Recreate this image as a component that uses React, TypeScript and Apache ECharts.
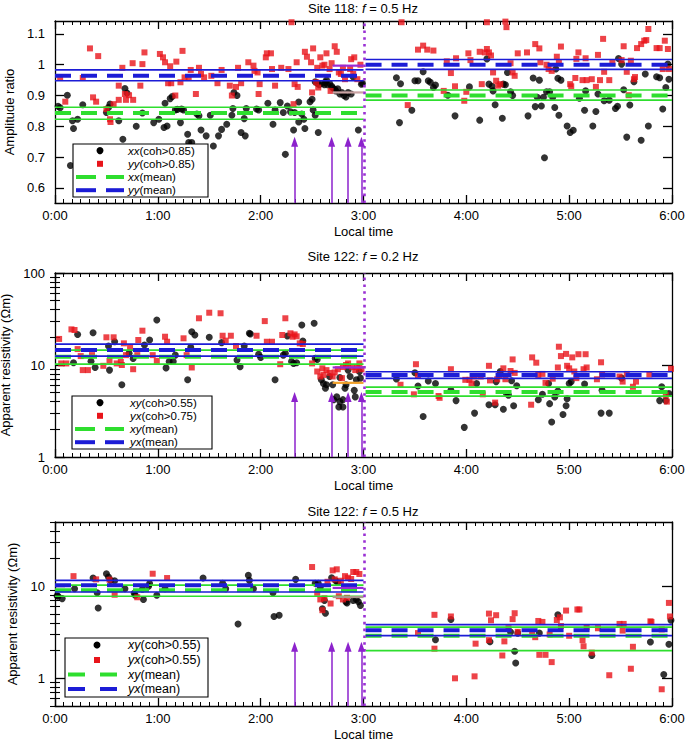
import React, { useEffect, useRef } from 'react';
import * as echarts from 'echarts';

const FONT = '"Liberation Sans", Arial, Helvetica, sans-serif';
const GREEN = '#2ede2e';
const BLUE = '#1c1cd6';
const RED = '#e8141a';
const PURPLE = '#8c22cc';
const DOTTED = '#9a30d4';

// ---- shared time layout (hours after 0:00 local time) ----
const hourTicks = [0, 1, 2, 3, 4, 5, 6];
const halves = [[0, 3.0], [3.02, 6]];
const eventSpan = [2.7, 3.0];
const arrowTimes = [2.33, 2.69, 2.85, 2.98];
const boundaryTime = 3.01;

// ---- Panel 1: Site 118, f = 0.5 Hz, amplitude ratio ----
const p1Title = ['Site 118: ', 'f', ' = 0.5 Hz'];
const p1YTicks = [0.6, 0.7, 0.8, 0.9, 1, 1.1];
const p1Range = [0.551, 1.142];
const p1XX = [
  [0.03, 0.865], [0.05, 0.86], [0.12, 0.901], [0.15, 0.673], [0.17, 0.818], [0.18, 0.793], [0.22, 0.823], [0.27, 0.87],
  [0.5, 0.845], [0.52, 0.861], [0.535, 0.872], [0.62, 0.818], [0.66, 0.758], [0.68, 0.923], [0.7, 0.908], [0.79, 0.8],
  [0.85, 0.843], [0.96, 0.812], [1.01, 0.823], [1.06, 0.796], [1.07, 0.875], [1.09, 0.801], [1.12, 0.89], [1.14, 0.897],
  [1.17, 0.853], [1.19, 0.855], [1.22, 0.812], [1.23, 0.856], [1.25, 0.853], [1.29, 0.774], [1.3, 0.747], [1.33, 0.747],
  [1.38, 0.84], [1.4, 0.834], [1.42, 0.788], [1.47, 0.769], [1.51, 0.836], [1.54, 0.736], [1.59, 0.769], [1.62, 0.79],
  [1.67, 0.807], [1.72, 0.836], [1.73, 0.858], [1.74, 0.91], [1.77, 0.9], [1.81, 0.78], [1.84, 0.825], [1.85, 0.769],
  [1.86, 0.858], [1.96, 0.856], [1.98, 0.853], [2.07, 0.875], [2.12, 0.807], [2.14, 0.853], [2.19, 0.877], [2.22, 0.845],
  [2.24, 0.709], [2.26, 0.866], [2.29, 0.847], [2.32, 0.788], [2.33, 0.845], [2.37, 0.879], [2.37, 0.814], [2.4, 0.84],
  [2.42, 0.823], [2.43, 0.793], [2.48, 0.88], [2.5, 0.888], [2.51, 0.853], [2.53, 0.836], [2.56, 0.78],
  [2.53, 0.945], [2.55, 0.94], [2.57, 0.935], [2.6, 0.94], [2.62, 0.935], [2.63, 0.943], [2.64, 0.95], [2.65, 0.935],
  [2.67, 0.94], [2.69, 0.93], [2.7, 0.925], [2.72, 0.92], [2.73, 0.915], [2.75, 0.922], [2.77, 0.905], [2.79, 0.91],
  [2.81, 0.9], [2.83, 0.895], [2.85, 0.91], [2.88, 0.905], [2.9, 0.96], [2.95, 0.788], [2.98, 0.937], [2.99, 0.94],
  [3.32, 0.958], [3.35, 0.812], [3.36, 0.938], [3.47, 0.852], [3.5, 0.948], [3.53, 0.948], [3.58, 0.977], [3.63, 0.948],
  [3.65, 0.943], [3.68, 0.926], [3.7, 0.934], [3.82, 0.901], [3.89, 0.834], [4.03, 0.928], [4.13, 0.82], [4.2, 1.019],
  [4.22, 0.937], [4.25, 0.93], [4.26, 0.915], [4.28, 0.87], [4.35, 0.826], [4.36, 0.937], [4.38, 0.935], [4.4, 0.975],
  [4.43, 0.912], [4.45, 0.9], [4.6, 0.834], [4.65, 0.957], [4.67, 0.864], [4.69, 0.894], [4.71, 0.95], [4.73, 0.866],
  [4.75, 0.894], [4.76, 0.698], [4.78, 0.912], [4.81, 0.912], [4.84, 0.894], [4.86, 0.861], [4.87, 0.986], [4.89, 0.956],
  [4.9, 0.836], [4.92, 0.95], [4.98, 0.801], [5.01, 0.78], [5.04, 0.787], [5.1, 0.891], [5.15, 0.852], [5.16, 0.915],
  [5.23, 0.801], [5.26, 0.848], [5.28, 0.905], [5.34, 0.883], [5.39, 0.885], [5.45, 0.858], [5.47, 0.865], [5.48, 1.02],
  [5.51, 1.002], [5.53, 0.919], [5.56, 0.765], [5.59, 0.869], [5.63, 0.945], [5.7, 0.755], [5.74, 0.97], [5.77, 0.801],
  [5.85, 0.961], [5.88, 0.958], [5.91, 0.856], [5.94, 0.926], [5.96, 1.002], [5.97, 0.953]
];
const p1YY = [
  [0.05, 0.957], [0.1, 0.88], [0.27, 0.957], [0.34, 1.053], [0.37, 0.894], [0.4, 0.88], [0.42, 1.028], [0.5, 0.856],
  [0.535, 0.823], [0.54, 0.814], [0.57, 0.872], [0.62, 0.932], [0.62, 0.886], [0.655, 0.99], [0.68, 0.905], [0.69, 0.886],
  [0.72, 0.901], [0.755, 1.005], [0.76, 0.886], [0.83, 0.932], [0.85, 1.002], [0.87, 1.04], [1.02, 1.035], [1.05, 1.024],
  [1.07, 1.008], [1.1, 0.94], [1.12, 0.995], [1.13, 0.94], [1.17, 0.9], [1.18, 1.01], [1.22, 0.943], [1.24, 1.045],
  [1.26, 0.959], [1.3, 0.957], [1.32, 0.983], [1.37, 0.905], [1.4, 0.99], [1.42, 0.97], [1.45, 0.959], [1.52, 0.964],
  [1.58, 0.94], [1.62, 0.983], [1.7, 0.932], [1.72, 0.9], [1.76, 0.928], [1.78, 0.99], [1.81, 0.94], [1.88, 1.008],
  [1.93, 0.997], [1.94, 0.98], [1.97, 0.975], [1.98, 0.905], [1.99, 0.937], [2.05, 1.024], [2.06, 1.037], [2.1, 1.037],
  [2.11, 0.986], [2.14, 0.932], [2.2, 0.99], [2.27, 0.986], [2.3, 1.138], [2.32, 0.872], [2.33, 0.937], [2.35, 1.008],
  [2.36, 0.928], [2.43, 1.042], [2.45, 1.026], [2.49, 1.008], [2.5, 0.91], [2.51, 1.053], [2.54, 0.943], [2.55, 0.99],
  [2.56, 0.926], [2.58, 1.024], [2.6, 0.997], [2.62, 1.0], [2.64, 1.037], [2.67, 0.986], [2.68, 0.915], [2.69, 1.005],
  [2.72, 1.06], [2.74, 1.042], [2.76, 0.975], [2.78, 0.97], [2.8, 0.99], [2.82, 0.953], [2.87, 0.986], [2.88, 1.018],
  [2.9, 0.97], [2.91, 1.024], [2.94, 0.953], [2.97, 1.0],
  [3.37, 1.138], [3.43, 0.869], [3.53, 1.049], [3.58, 1.062], [3.62, 1.049], [3.68, 1.046], [3.78, 0.915], [3.81, 1.011],
  [3.85, 0.973], [3.89, 0.93], [3.9, 1.021], [3.98, 0.883], [4.0, 0.912], [4.02, 1.037], [4.04, 1.015], [4.13, 1.042],
  [4.15, 0.937], [4.18, 1.04], [4.2, 1.051], [4.2, 1.138], [4.22, 1.04], [4.24, 1.03], [4.26, 0.975], [4.29, 0.948],
  [4.31, 0.932], [4.33, 0.937], [4.38, 1.14], [4.39, 1.122], [4.43, 1.005], [4.45, 0.975], [4.47, 0.964], [4.5, 1.037],
  [4.59, 1.04], [4.67, 1.067], [4.71, 1.053], [4.72, 1.008], [4.78, 1.0], [4.8, 0.986], [4.83, 0.98], [4.88, 1.026],
  [4.9, 1.008], [4.92, 1.059], [5.01, 0.937], [5.02, 0.93], [5.06, 0.957], [5.07, 1.019], [5.09, 1.04], [5.13, 0.95],
  [5.16, 1.021], [5.17, 0.95], [5.22, 0.953], [5.26, 0.928], [5.28, 1.032], [5.3, 0.95], [5.33, 1.084], [5.34, 0.977],
  [5.39, 0.95], [5.42, 1.008], [5.51, 1.015], [5.53, 1.06], [5.56, 0.977], [5.58, 0.901], [5.6, 1.013], [5.63, 0.953],
  [5.64, 0.96], [5.66, 1.054], [5.7, 1.067], [5.73, 1.078], [5.75, 1.08], [5.77, 1.116], [5.85, 1.054], [5.88, 1.054],
  [5.91, 0.986], [5.93, 1.078], [5.96, 1.051], [5.97, 0.986]
];
const p1XXMean = [0.843, 0.9];
const p1XXBand = [[0.823, 0.862], [0.885, 0.918]];
const p1YYMean = [0.964, 1.0];
const p1YYBand = [[0.948, 0.983], [0.985, 1.017]];
const p1EventLevels = [0.997, 0.91];
const p1ArrowTop = 0.75;
const p1Legend = [['xx', '(coh>0.85)'], ['yy', '(coh>0.85)'], ['xx', '(mean)'], ['yy', '(mean)']];

// ---- Panel 2: Site 122, f = 0.2 Hz, apparent resistivity ----
const p2Title = ['Site 122: ', 'f', ' = 0.2 Hz'];
const p2Range = [1, 100];
const p2MajorTicks = [1, 10, 100];
const p2MinorTicks = [2, 3, 4, 5, 6, 7, 8, 9, 20, 30, 40, 50, 60, 70, 80, 90];
const p2XY = [
  [0.18, 10.6], [0.22, 21.5], [0.35, 11.0], [0.37, 22.4], [0.39, 9.4], [0.52, 16.1], [0.53, 8.8], [0.58, 17.9],
  [0.65, 6.1], [0.72, 13.4], [0.76, 11.8], [0.87, 16.5], [0.92, 18.7], [0.99, 30.8], [1.08, 9.3], [1.11, 10.9],
  [1.15, 10.9], [1.17, 12.8], [1.29, 6.9], [1.32, 15.6], [1.33, 23.0], [1.36, 21.2], [1.5, 20], [1.62, 17.5],
  [1.77, 11.3], [1.8, 9.6], [1.84, 16.1], [1.89, 22.1], [1.9, 21.7], [1.98, 13.1], [2.0, 12.1], [2.14, 6.9],
  [2.22, 12.8], [2.24, 13.4], [2.26, 20.7], [2.3, 10.9], [2.32, 10.4], [2.35, 10.6], [2.4, 27.2], [2.41, 18.2],
  [2.52, 28.4], [2.53, 11.8], [2.55, 11.5], [2.59, 6.9], [2.61, 6.3], [2.63, 5.6], [2.64, 6.1], [2.67, 7.5],
  [2.7, 6.1], [2.71, 4.2], [2.74, 4.5], [2.76, 3.5], [2.77, 4.0], [2.77, 7.3], [2.8, 4.2], [2.8, 3.5],
  [2.82, 5.6], [2.83, 6.1], [2.85, 8.8], [2.87, 7.5], [2.91, 5.3], [2.92, 4.5], [2.93, 6.9], [2.96, 8.5], [2.97, 7.2],
  [3.32, 7.05], [3.5, 8.25], [3.53, 5.9], [3.58, 2.75], [3.63, 6.7], [3.7, 6.3], [3.85, 5.3], [3.9, 4.1],
  [3.98, 2.1], [4.08, 3.0], [4.1, 6.3], [4.22, 3.7], [4.28, 3.7], [4.29, 6.6], [4.33, 8.5], [4.36, 3.3],
  [4.39, 4.9], [4.41, 4.7], [4.44, 6.75], [4.46, 3.6], [4.49, 5.95], [4.7, 4.2], [4.74, 4.8], [4.8, 6.3],
  [4.81, 3.8], [4.83, 2.4], [4.86, 4.5], [4.89, 5.2], [4.94, 2.9], [4.97, 3.6], [4.98, 4.3], [5.0, 6.3],
  [5.02, 6.6], [5.15, 6.2], [5.31, 3.0], [5.32, 5.3], [5.39, 3.0], [5.51, 7.2], [5.88, 4.1], [5.9, 5.8],
  [5.94, 4.1], [5.97, 4.9]
];
const p2YX = [
  [0.04, 19.2], [0.06, 10.4], [0.11, 10.4], [0.16, 24.4], [0.19, 24], [0.22, 14.9], [0.25, 12.5], [0.27, 8.8],
  [0.32, 8.8], [0.36, 12.8], [0.47, 9.8], [0.5, 20], [0.53, 11.1], [0.57, 20], [0.6, 10.4], [0.64, 10.8],
  [0.65, 10], [0.67, 17.2], [0.69, 12.8], [0.73, 15.6], [0.76, 9.0], [0.8, 12.8], [0.81, 18.7], [0.85, 23.6],
  [0.95, 12.8], [0.99, 11.1], [1.07, 20.3], [1.09, 17.9], [1.25, 19.5], [1.28, 12.8], [1.33, 9.4], [1.4, 32.2],
  [1.5, 37], [1.61, 36.5], [1.63, 20.8], [1.66, 18.4], [1.71, 20.8], [1.76, 16.1], [1.96, 20.8], [2.04, 30],
  [2.06, 17.9], [2.11, 17.9], [2.19, 10.2], [2.21, 21.2], [2.24, 32.2], [2.29, 22.1], [2.31, 20.3], [2.33, 21.5],
  [2.35, 20.5], [2.38, 17.2], [2.41, 16.9], [2.5, 10.4], [2.55, 8.5], [2.58, 7.5], [2.6, 9.2], [2.61, 7.8],
  [2.64, 8.8], [2.67, 8.2], [2.7, 7.5], [2.72, 8.3], [2.75, 9.0], [2.79, 7.2], [2.8, 9.5], [2.83, 10.0],
  [2.85, 10.4], [2.89, 9.5], [2.92, 8.8], [2.94, 9.5], [2.96, 10.4], [2.98, 9.0],
  [3.36, 6.1], [3.49, 4.8], [3.51, 10.2], [3.53, 7.6], [3.73, 4.6], [3.74, 4.4], [3.85, 9.0], [3.99, 6.9],
  [4.03, 6.9], [4.05, 6.3], [4.08, 7.5], [4.14, 7.5], [4.16, 4.8], [4.22, 9.8], [4.23, 6.8], [4.28, 3.9],
  [4.3, 7.0], [4.32, 7.7], [4.36, 9.2], [4.38, 7.0], [4.43, 8.6], [4.45, 11.5], [4.47, 8.2], [4.63, 3.7],
  [4.64, 12.1], [4.68, 10.6], [4.7, 7.8], [4.74, 8.0], [4.77, 6.4], [4.84, 7.1], [4.89, 9.4], [4.9, 15.8],
  [4.92, 12.5], [4.97, 13.2], [4.98, 9.8], [5.0, 9.2], [5.03, 12.1], [5.05, 8.5], [5.07, 7.2], [5.09, 13.1],
  [5.14, 9.0], [5.16, 13.1], [5.17, 9.4], [5.27, 7.0], [5.31, 10.7], [5.32, 7.9], [5.49, 7.5], [5.52, 6.6],
  [5.56, 8.0], [5.62, 5.8], [5.65, 6.6], [5.78, 7.9], [5.94, 4.7], [5.95, 4.0], [5.99, 9.1]
];
const p2XYMean = [12.3, 5.1];
const p2XYBand = [[10.2, 14.5], [4.6, 5.76]];
const p2YXMean = [14.6, 7.8];
const p2YXBand = [[12.5, 16.9], [7.17, 8.45]];
const p2EventLevels = [9.4, 6.4];
const p2ArrowTop = 4.5;
const p2Legend = [['xy', '(coh>0.55)'], ['yx', '(coh>0.75)'], ['xy', '(mean)'], ['yx', '(mean)']];

// ---- Panel 3: Site 122, f = 0.5 Hz, apparent resistivity ----
const p3Title = ['Site 122: ', 'f', ' = 0.5 Hz'];
const p3Range = [0.5, 50];
const p3MajorTicks = [1, 10];
const p3MinorTicks = [0.5, 0.6, 0.7, 0.8, 0.9, 2, 3, 4, 5, 6, 7, 8, 9, 20, 30, 40, 50];
const p3XY = [
  [0.02, 7.9], [0.03, 7.8], [0.07, 7.35], [0.19, 9.4], [0.37, 12.3], [0.41, 8.5], [0.42, 5.8], [0.5, 13.7],
  [0.52, 12.6], [0.54, 11.6], [0.58, 11.5], [0.68, 9.4], [0.77, 8.4], [0.78, 8.0], [0.85, 9.3], [0.86, 7.2],
  [0.91, 10], [0.92, 10.7], [0.99, 8.0], [1.07, 9.4], [1.44, 12.3], [1.63, 10.8], [1.66, 9.4], [1.78, 3.9],
  [1.88, 13.2], [1.89, 11.6], [1.93, 9.4], [2.12, 8.5], [2.13, 4.7], [2.18, 4.85], [2.34, 11.9], [2.53, 10.8],
  [2.56, 10.8], [2.58, 9.8], [2.6, 5.7], [2.62, 7.0], [2.63, 5.1], [2.69, 12.4], [2.73, 11.5], [2.75, 11.0],
  [2.83, 6.75], [2.84, 6.6], [2.9, 7.0], [2.93, 7.2], [2.95, 6.8], [2.97, 6.2],
  [3.7, 2.63], [3.85, 4.35], [4.23, 2.5], [4.43, 3.18], [4.47, 1.97], [4.48, 1.47], [4.5, 3.1], [4.71, 3.1],
  [4.89, 4.9], [5.22, 1.77], [5.79, 2.48], [5.92, 1.1], [5.97, 2.35], [5.99, 4.27]
];
const p3YX = [
  [0.18, 12.9], [0.4, 11.9], [0.53, 11.8], [0.58, 8.1], [0.8, 7.6], [0.95, 13.7], [1.09, 12.3], [2.5, 16.2],
  [2.55, 8.5], [2.58, 7.2], [2.6, 5.5], [2.62, 7.4], [2.65, 11.2], [2.68, 6.5], [2.7, 14.9], [2.72, 11.9],
  [2.74, 15.3], [2.76, 7.8], [2.78, 11.5], [2.8, 7.2], [2.82, 12.9], [2.84, 7.5], [2.85, 12.4], [2.88, 12.0],
  [2.9, 14.3], [2.93, 14.3], [2.96, 13.6],
  [3.53, 3.1], [3.69, 4.9], [3.69, 2.1], [3.85, 4.7], [3.89, 1.0], [4.08, 1.05], [4.09, 2.38], [4.22, 5.05],
  [4.22, 2.6], [4.24, 4.27], [4.29, 4.85], [4.35, 1.77], [4.37, 2.52], [4.41, 3.5], [4.45, 4.4], [4.47, 5.1],
  [4.5, 3.2], [4.64, 3.1], [4.67, 2.8], [4.7, 4.2], [4.71, 1.8], [4.74, 4.1], [4.77, 1.8], [4.81, 3.0],
  [4.83, 1.5], [4.88, 4.3], [4.91, 4.6], [4.92, 3.7], [4.97, 5.45], [5.0, 2.9], [5.08, 5.6], [5.1, 5.6],
  [5.13, 2.6], [5.14, 2.23], [5.17, 3.6], [5.22, 1.9], [5.28, 3.5], [5.39, 1.08], [5.49, 3.9], [5.52, 3.3],
  [5.53, 3.9], [5.6, 1.27], [5.62, 2.2], [5.79, 4.16], [5.8, 4.1], [5.9, 3.4], [5.9, 0.76], [5.97, 6.6], [5.98, 4.7]
];
const p3XYMean = [9.05, 2.9];
const p3XYBand = [[7.8, 10.3], [2.0, 3.6]];
const p3YXMean = [10.25, 3.33];
const p3YXBand = [[8.67, 11.6], [2.91, 3.83]];
const p3EventLevels = [9.6, 7.65];
const p3ArrowTop = 2.2;
const p3Legend = [['xy', '(coh>0.55)'], ['yx', '(coh>0.55)'], ['xy', '(mean)'], ['yx', '(mean)']];

const yNames = ['Amplitude ratio', 'Apparent resistivity (\u03a9m)', 'Apparent resistivity (\u03a9m)'];

// ---- layout (pixels) ----
const GRIDS = [
  { left: 55, top: 21, width: 617, height: 182 },
  { left: 55, top: 273, width: 617, height: 184 },
  { left: 55, top: 522, width: 617, height: 184 },
];
const TITLE_Y = [8, 256, 511];
const LEGENDS = [
  { x: 73, y: 144, w: 135, h: 53, rows: [150.6, 163.8, 177, 190.2], mx: 100, d: [[76, 96], [106, 124]], tx: 128, fs: 11.5 },
  { x: 72, y: 396, w: 140, h: 53, rows: [402.6, 415.8, 429, 442.2], mx: 100, d: [[75, 95], [105, 124]], tx: 130, fs: 11.5 },
  { x: 65, y: 638, w: 143, h: 59, rows: [645, 660, 674.5, 689], mx: 97, d: [[68, 85], [100, 117]], tx: 128, fs: 12.5 },
];

const textBase = { fontFamily: FONT, fontSize: 13, color: '#000' };
const axisLineStyle = { color: '#000', width: 1.3 };

function buildOption() {
  const panels = [
    { black: p1XX, red: p1YY, xyMean: p1XXMean, xyBand: p1XXBand, yxMean: p1YYMean, yxBand: p1YYBand,
      events: p1EventLevels, eventColors: ['#9a2ad6', '#c9a2a2'], arrowTop: p1ArrowTop, range: p1Range, legend: p1Legend, title: p1Title },
    { black: p2XY, red: p2YX, xyMean: p2XYMean, xyBand: p2XYBand, yxMean: p2YXMean, yxBand: p2YXBand,
      events: p2EventLevels, eventColors: ['#9a2ad6', '#f2a22a'], arrowTop: p2ArrowTop, range: p2Range, legend: p2Legend, title: p2Title },
    { black: p3XY, red: p3YX, xyMean: p3XYMean, xyBand: p3XYBand, yxMean: p3YXMean, yxBand: p3YXBand,
      events: p3EventLevels, eventColors: ['#9a2ad6', '#a89a8a'], arrowTop: p3ArrowTop, range: p3Range, legend: p3Legend, title: p3Title },
  ];

  const xAxis: any[] = [];
  GRIDS.forEach((g, i) => {
    ['bottom', 'top'].forEach((pos) => {
      xAxis.push({
        gridIndex: i, type: 'value', position: pos, min: 0, max: 6, interval: 1,
        axisLine: { show: true, onZero: false, lineStyle: axisLineStyle },
        axisTick: { show: true, inside: true, length: 8, lineStyle: axisLineStyle },
        minorTick: { show: true, splitNumber: 12, length: 4, lineStyle: { color: '#000', width: 1 } },
        splitLine: { show: false }, minorSplitLine: { show: false },
        axisLabel: pos === 'bottom'
          ? { show: true, ...textBase, margin: 6, showMinLabel: true, showMaxLabel: true,
              formatter: (v: number) => (hourTicks.indexOf(v) >= 0 ? `${v}:00` : '') }
          : { show: false },
        name: pos === 'bottom' ? 'Local time' : '',
        nameLocation: 'middle', nameGap: 22, nameTextStyle: textBase,
      });
    });
  });

  const yAxis: any[] = [];
  const mainY: number[] = [];
  // panel 1 (linear)
  mainY.push(yAxis.length);
  ['left', 'right'].forEach((pos) => {
    yAxis.push({
      gridIndex: 0, type: 'value', position: pos, min: p1Range[0], max: p1Range[1],
      axisLine: { show: true, onZero: false, lineStyle: axisLineStyle },
      axisTick: { show: true, inside: true, length: 9, lineStyle: axisLineStyle, customValues: p1YTicks },
      axisLabel: pos === 'left' ? { show: true, ...textBase, margin: 10, customValues: p1YTicks } : { show: false },
      splitLine: { show: false },
      name: pos === 'left' ? yNames[0] : '', nameLocation: 'middle', nameGap: 36, nameTextStyle: textBase,
    });
  });
  // panels 2,3 (log)
  [[p2Range, p2MajorTicks, p2MinorTicks], [p3Range, p3MajorTicks, p3MinorTicks]].forEach(([range, major, minor], k) => {
    const gi = k + 1;
    mainY.push(yAxis.length);
    ['left', 'right'].forEach((pos) => {
      yAxis.push({
        gridIndex: gi, type: 'log', logBase: 10, position: pos, min: range[0], max: range[1],
        axisLine: { show: true, onZero: false, lineStyle: axisLineStyle },
        axisTick: { show: true, inside: true, length: 10, lineStyle: axisLineStyle, customValues: major },
        axisLabel: pos === 'left' ? { show: true, ...textBase, margin: 10, customValues: major } : { show: false },
        splitLine: { show: false }, minorTick: { show: false },
        name: pos === 'left' ? yNames[gi] : '', nameLocation: 'middle', nameGap: 36, nameTextStyle: textBase,
      });
    });
    ['left', 'right'].forEach((pos) => {
      yAxis.push({
        gridIndex: gi, type: 'log', logBase: 10, position: pos, min: range[0], max: range[1],
        axisLine: { show: false },
        axisTick: { show: true, inside: true, length: 5, lineStyle: { color: '#000', width: 1.1 }, customValues: minor },
        axisLabel: { show: false }, splitLine: { show: false },
      });
    });
  });

  const series: any[] = [];
  panels.forEach((p, i) => {
    const xi = i * 2;
    const yi = mainY[i];
    const [yMin, yMax] = p.range;
    series.push({
      type: 'scatter', xAxisIndex: xi, yAxisIndex: yi, data: p.black, symbol: 'circle', symbolSize: 7,
      itemStyle: { color: '#000' }, silent: true, z: 2,
    });
    series.push({
      type: 'scatter', xAxisIndex: xi, yAxisIndex: yi, data: p.red, symbol: 'rect', symbolSize: 6,
      itemStyle: { color: RED }, silent: true, z: 3,
    });
    const addLine = (seg: number[], val: number, color: string, dashed: boolean, width?: number) => {
      series.push({
        type: 'line', xAxisIndex: xi, yAxisIndex: yi, data: [[seg[0], val], [seg[1], val]],
        symbol: 'none', showSymbol: false, silent: true, z: 4,
        lineStyle: dashed ? { color, width: 4, type: [16, 10] } : { color, width: width || 1.7 },
      });
    };
    halves.forEach((seg, k) => {
      addLine(seg, p.xyBand[k][0], GREEN, false);
      addLine(seg, p.xyBand[k][1], GREEN, false);
      addLine(seg, p.xyMean[k], GREEN, true);
    });
    halves.forEach((seg, k) => {
      addLine(seg, p.yxBand[k][0], BLUE, false);
      addLine(seg, p.yxBand[k][1], BLUE, false);
      addLine(seg, p.yxMean[k], BLUE, true);
    });
    p.events.forEach((lvl, k) => addLine(eventSpan, lvl, p.eventColors[k], false, 2.2));
    // boundary dotted line + arrows
    series.push({
      type: 'line', xAxisIndex: xi, yAxisIndex: yi, data: [], silent: true, z: 6,
      markLine: {
        silent: true, animation: false, label: { show: false }, symbol: ['none', 'none'],
        emphasis: { disabled: true },
        data: [
          [
            { coord: [boundaryTime, yMin], symbol: 'none', lineStyle: { color: DOTTED, width: 2.6, type: [2.6, 4.2], cap: 'butt' } },
            { coord: [boundaryTime, yMax], symbol: 'none' },
          ],
          ...arrowTimes.map((t) => [
            { coord: [t, yMin], symbol: 'none', lineStyle: { color: PURPLE, width: 1.5, type: 'solid' } },
            { coord: [t, p.arrowTop], symbol: 'triangle', symbolSize: [7, 10] },
          ]),
        ],
      },
    });
  });

  const graphic: any[] = [];
  const mkRich = (fs: number) => ({
    n: { fontFamily: FONT, fontSize: fs, fill: '#000', lineHeight: fs },
    i: { fontFamily: FONT, fontSize: fs, fill: '#000', fontStyle: 'italic', lineHeight: fs },
  });
  panels.forEach((p, i) => {
    graphic.push({
      type: 'text', x: 363, y: TITLE_Y[i], z: 100,
      style: { text: `{n|${p.title[0]}}{i|${p.title[1]}}{n|${p.title[2]}}`, rich: mkRich(13), align: 'center', verticalAlign: 'middle' },
    });
    const L = LEGENDS[i];
    graphic.push({
      type: 'rect', z: 100, shape: { x: L.x, y: L.y, width: L.w, height: L.h },
      style: { fill: '#fff', stroke: '#000', lineWidth: 1.1 },
    });
    L.rows.forEach((ry, r) => {
      if (r === 0) {
        graphic.push({ type: 'circle', z: 101, shape: { cx: L.mx, cy: ry, r: 3.5 }, style: { fill: '#000' } });
      } else if (r === 1) {
        graphic.push({ type: 'rect', z: 101, shape: { x: L.mx - 3, y: ry - 3, width: 6, height: 6 }, style: { fill: RED } });
      } else {
        const c = r === 2 ? GREEN : BLUE;
        L.d.forEach((seg) => {
          graphic.push({ type: 'line', z: 101, shape: { x1: seg[0], y1: ry, x2: seg[1], y2: ry }, style: { stroke: c, lineWidth: 4 } });
        });
      }
      const lab = p.legend[r];
      graphic.push({
        type: 'text', z: 101, x: L.tx, y: ry,
        style: { text: `{i|${lab[0]}}{n|${lab[1]}}`, rich: mkRich(L.fs), align: 'left', verticalAlign: 'middle' },
      });
    });
  });

  return {
    animation: false,
    backgroundColor: '#fff',
    textStyle: { fontFamily: FONT },
    grid: GRIDS.map((g) => ({ ...g, containLabel: false, outerBoundsMode: 'none' })),
    xAxis,
    yAxis,
    series,
    graphic,
  };
}

export default function App() {
  const ref = useRef<HTMLDivElement>(null);
  useEffect(() => {
    document.body.style.margin = '0';
    if (!ref.current) return;
    const chart = echarts.init(ref.current, undefined, { renderer: 'svg' });
    chart.setOption(buildOption() as any);
    return () => chart.dispose();
  }, []);
  return <div ref={ref} style={{ width: 685, height: 745 }} />;
}
